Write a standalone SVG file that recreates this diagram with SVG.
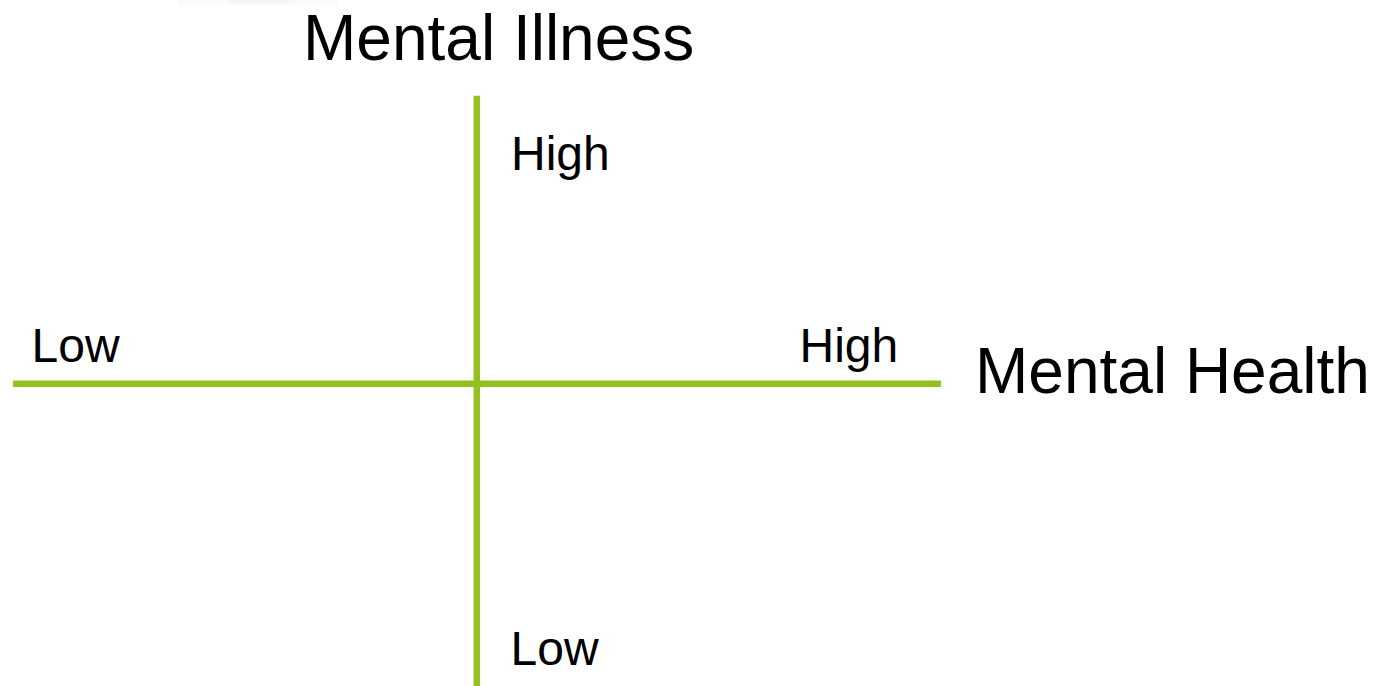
<svg xmlns="http://www.w3.org/2000/svg" width="1383" height="686" viewBox="0 0 1383 686">
  <style>
    .axis { stroke: #94c11f; stroke-width: 6.5; fill: none; }
    .title { font-family: "Liberation Sans", Arial, sans-serif; font-size: 64px; fill: #000; }
    .tick { font-family: "Liberation Sans", Arial, sans-serif; font-size: 48px; fill: #000; }
  </style>
  <rect width="1383" height="686" fill="#ffffff"/>
  <!-- faint remnant along the top edge -->
  <g id="top-remnant" opacity="0.4">
    <rect x="178" y="0" width="160" height="5" fill="#f3f3f3"/>
    <rect x="228" y="0" width="62" height="3" fill="#e8e8e8"/>
  </g>
  <g id="connectors">
    <line class="axis" x1="13" y1="383.7" x2="941" y2="383.7"/>
    <line class="axis" x1="476.8" y1="95.7" x2="476.8" y2="686"/>
  </g>
  <g id="mental-illness-axis-title">
    <text class="title" x="303" y="60">Mental Illness</text>
  </g>
  <g id="mental-health-axis-title">
    <text class="title" x="975" y="393">Mental Health</text>
  </g>
  <g id="illness-high">
    <text class="tick" x="511" y="170">High</text>
  </g>
  <g id="illness-low">
    <text class="tick" x="510.5" y="665">Low</text>
  </g>
  <g id="health-low">
    <text class="tick" x="31.5" y="362">Low</text>
  </g>
  <g id="health-high">
    <text class="tick" x="799.5" y="362">High</text>
  </g>
</svg>
